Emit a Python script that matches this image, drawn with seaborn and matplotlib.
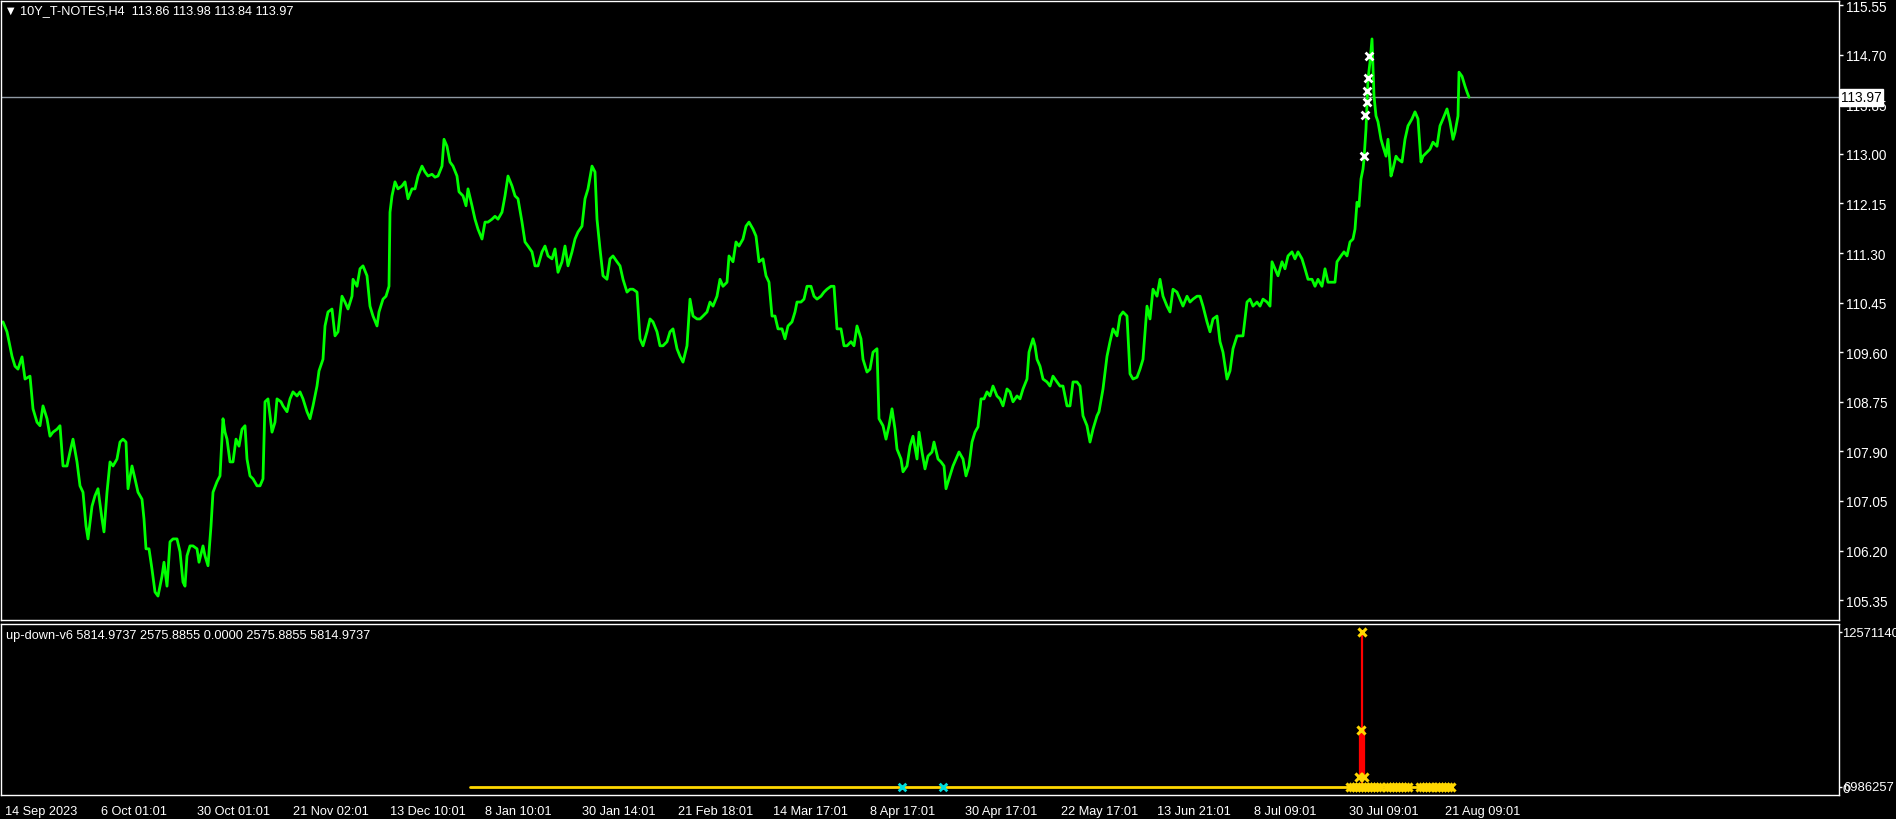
import matplotlib
matplotlib.use("Agg")
import matplotlib.pyplot as plt
import matplotlib.transforms as mtransforms
import seaborn as sns

# --- price trace (H4 bar index, price) ---
bar_idx = [3, 7, 12, 15, 18, 22, 25, 30, 33, 37, 40, 43, 47, 50, 53, 57, 60, 63, 67, 70,
           73, 77, 80, 83, 86, 88, 92, 95, 98, 102, 104, 107, 110, 113, 117, 120, 123, 126, 128, 132,
           135, 138, 142, 144, 146, 149, 152, 155, 158, 162, 164, 167, 170, 173, 177, 180, 183, 185, 187, 190,
           193, 197, 199, 203, 205, 208, 211, 213, 217, 220, 223, 225, 227, 230, 233, 236, 239, 242, 245, 247,
           250, 253, 257, 260, 263, 265, 268, 272, 275, 277, 281, 283, 287, 290, 293, 297, 300, 303, 307, 310,
           313, 317, 319, 323, 325, 328, 332, 335, 338, 342, 345, 348, 352, 353, 357, 360, 363, 367, 370, 373,
           377, 379, 383, 386, 389, 390, 392, 395, 398, 402, 405, 408, 412, 415, 418, 422, 425, 428, 432, 435,
           438, 442, 444, 447, 450, 453, 457, 459, 463, 466, 468, 472, 475, 478, 482, 485, 488, 492, 495, 498,
           502, 505, 508, 512, 515, 518, 522, 525, 528, 532, 535, 538, 542, 545, 548, 552, 555, 558, 562, 565,
           568, 572, 575, 578, 582, 585, 588, 592, 595, 597, 600, 603, 607, 610, 613, 617, 620, 623, 627, 630,
           633, 637, 640, 643, 647, 650, 653, 657, 660, 663, 667, 670, 673, 677, 680, 683, 687, 690, 693, 697,
           700, 703, 707, 710, 713, 717, 720, 723, 727, 729, 733, 736, 739, 743, 746, 749, 753, 756, 759, 763,
           766, 769, 772, 775, 778, 782, 785, 788, 792, 795, 797, 801, 804, 807, 811, 814, 817, 821, 824, 827,
           831, 834, 837, 841, 844, 847, 851, 854, 857, 861, 863, 867, 870, 873, 877, 879, 883, 886, 889, 892,
           895, 897, 901, 903, 907, 910, 913, 917, 919, 922, 925, 928, 932, 934, 938, 941, 944, 946, 949, 953,
           956, 959, 963, 966, 969, 972, 975, 978, 981, 984, 987, 990, 993, 997, 1000, 1003, 1007, 1010, 1013, 1017,
           1020, 1023, 1027, 1029, 1033, 1035, 1037, 1040, 1043, 1047, 1050, 1053, 1057, 1060, 1063, 1067, 1070, 1073, 1077, 1080,
           1083, 1087, 1090, 1093, 1097, 1099, 1103, 1107, 1110, 1113, 1117, 1120, 1123, 1127, 1130, 1133, 1137, 1140, 1143, 1147,
           1150, 1153, 1157, 1160, 1163, 1167, 1170, 1173, 1177, 1180, 1183, 1187, 1190, 1193, 1197, 1200, 1203, 1207, 1210, 1213,
           1217, 1220, 1223, 1227, 1230, 1233, 1237, 1240, 1243, 1247, 1250, 1253, 1257, 1260, 1263, 1267, 1270, 1272, 1275, 1278,
           1282, 1285, 1288, 1292, 1295, 1298, 1302, 1305, 1308, 1312, 1315, 1318, 1322, 1325, 1328, 1332, 1335, 1337, 1341, 1344,
           1347, 1350, 1353, 1355, 1357, 1359, 1361, 1363, 1364, 1366, 1368, 1370, 1372, 1374, 1376, 1378, 1381, 1383, 1386, 1388,
           1391, 1393, 1396, 1398, 1402, 1405, 1408, 1412, 1415, 1418, 1421, 1423, 1427, 1430, 1433, 1437, 1440, 1443, 1447, 1450,
           1453, 1455, 1458, 1459, 1462, 1465, 1467, 1469]
close = [110.12, 109.95, 109.53, 109.36, 109.31, 109.52, 109.14, 109.19, 108.63, 108.40, 108.34, 108.68, 108.46, 108.16, 108.23, 108.28, 108.34, 107.65, 107.65, 107.89,
         108.11, 107.72, 107.31, 107.20, 106.62, 106.40, 106.96, 107.14, 107.26, 106.74, 106.52, 107.20, 107.72, 107.65, 107.77, 108.06, 108.11, 108.06, 107.26, 107.65,
         107.43, 107.20, 107.08, 106.74, 106.23, 106.23, 105.88, 105.49, 105.42, 105.76, 106.00, 105.59, 106.35, 106.40, 106.40, 106.18, 105.66, 105.59, 106.11, 106.28,
         106.28, 106.23, 106.00, 106.28, 106.11, 105.94, 106.62, 107.20, 107.38, 107.48, 108.46, 108.23, 108.11, 107.72, 107.72, 108.11, 107.99, 108.28, 108.34, 107.77,
         107.48, 107.43, 107.31, 107.31, 107.43, 108.75, 108.80, 108.23, 108.40, 108.80, 108.75, 108.68, 108.58, 108.80, 108.92, 108.85, 108.92, 108.80, 108.58, 108.46,
         108.68, 109.02, 109.28, 109.48, 110.05, 110.29, 110.34, 109.88, 109.95, 110.56, 110.46, 110.34, 110.56, 110.85, 110.73, 111.03, 111.08, 110.91, 110.39, 110.22,
         110.05, 110.29, 110.51, 110.56, 110.73, 112.00, 112.28, 112.52, 112.40, 112.45, 112.52, 112.23, 112.40, 112.40, 112.62, 112.79, 112.69, 112.62, 112.65, 112.60,
         112.62, 112.79, 113.25, 113.13, 112.86, 112.79, 112.62, 112.35, 112.28, 112.11, 112.40, 112.11, 111.88, 111.71, 111.54, 111.83, 111.83, 111.88, 111.93, 111.88,
         112.00, 112.28, 112.62, 112.45, 112.28, 112.23, 111.83, 111.49, 111.42, 111.32, 111.08, 111.08, 111.32, 111.42, 111.25, 111.20, 111.37, 110.97, 111.15, 111.42,
         111.08, 111.32, 111.54, 111.66, 111.76, 112.23, 112.40, 112.79, 112.69, 111.88, 111.37, 110.91, 110.85, 111.20, 111.25, 111.15, 111.08, 110.85, 110.63, 110.68,
         110.68, 110.63, 109.83, 109.71, 109.95, 110.17, 110.12, 109.95, 109.71, 109.71, 109.78, 109.95, 110.00, 109.66, 109.53, 109.43, 109.71, 110.51, 110.22, 110.17,
         110.17, 110.22, 110.29, 110.46, 110.39, 110.56, 110.85, 110.73, 110.80, 111.25, 111.15, 111.49, 111.42, 111.54, 111.76, 111.83, 111.71, 111.59, 111.15, 111.20,
         110.91, 110.80, 110.22, 110.22, 110.00, 110.00, 109.83, 110.05, 110.12, 110.29, 110.46, 110.46, 110.51, 110.73, 110.73, 110.56, 110.51, 110.56, 110.63, 110.68,
         110.73, 110.73, 110.00, 110.00, 109.71, 109.71, 109.78, 109.71, 110.05, 109.83, 109.48, 109.26, 109.31, 109.60, 109.66, 108.46, 108.34, 108.11, 108.34, 108.63,
         108.28, 107.94, 107.77, 107.55, 107.65, 107.99, 108.16, 107.77, 108.23, 107.89, 107.60, 107.82, 107.89, 108.06, 107.77, 107.72, 107.65, 107.26, 107.43, 107.65,
         107.77, 107.89, 107.77, 107.48, 107.65, 108.06, 108.23, 108.32, 108.80, 108.80, 108.92, 108.85, 109.02, 108.85, 108.80, 108.68, 108.97, 108.92, 108.75, 108.85,
         108.80, 108.97, 109.14, 109.60, 109.83, 109.71, 109.48, 109.36, 109.14, 109.09, 109.02, 109.19, 109.09, 109.02, 109.02, 108.68, 108.68, 109.09, 109.09, 109.02,
         108.51, 108.34, 108.06, 108.28, 108.51, 108.58, 108.97, 109.53, 109.78, 110.00, 109.88, 110.22, 110.29, 110.22, 109.23, 109.14, 109.17, 109.31, 109.48, 110.39,
         110.17, 110.68, 110.56, 110.85, 110.56, 110.39, 110.29, 110.68, 110.63, 110.51, 110.39, 110.56, 110.46, 110.51, 110.56, 110.56, 110.39, 110.12, 109.95, 110.17,
         110.22, 109.78, 109.60, 109.14, 109.28, 109.66, 109.88, 109.88, 109.88, 110.46, 110.51, 110.39, 110.46, 110.39, 110.51, 110.46, 110.39, 111.15, 111.03, 110.91,
         111.15, 111.03, 111.25, 111.32, 111.20, 111.32, 111.20, 111.03, 110.85, 110.85, 110.73, 110.85, 110.73, 111.03, 110.80, 110.80, 110.80, 111.15, 111.25, 111.32,
         111.25, 111.49, 111.54, 111.71, 112.17, 112.10, 112.57, 112.74, 112.91, 113.43, 114.28, 114.57, 114.97, 113.99, 113.65, 113.55, 113.25, 113.13, 112.96, 113.25,
         112.62, 112.74, 112.96, 112.91, 112.86, 113.25, 113.48, 113.60, 113.72, 113.60, 112.86, 112.96, 113.03, 113.08, 113.20, 113.13, 113.48, 113.60, 113.77, 113.55,
         113.25, 113.37, 113.65, 114.40, 114.33, 114.16, 114.06, 113.97]

# white 'x' signals on the price pane
sig_idx = [1364, 1365, 1367, 1367, 1368, 1369]
sig_price = [112.96, 113.67, 113.89, 114.08, 114.30, 114.68]

last_price = 113.97
price_ticks = [105.35, 106.20, 107.05, 107.90, 108.75, 109.60, 110.45,
               111.30, 112.15, 113.00, 113.85, 114.70, 115.55]

# --- up-down-v6 indicator pane ---
ind_line_idx = [470, 1452]
ind_line_val = [5815, 5815]
spike_idx = 1362
spike_top = 12571140
spike_mid = 4620000
spike_low = 811000
gold_idx = [1350, 1353, 1356, 1359, 1362, 1365, 1368, 1371, 1374, 1377, 1380,
            1387, 1390, 1393, 1396, 1399, 1402, 1405, 1408,
            1420, 1423, 1426, 1429, 1432,
            1436, 1439, 1442, 1445, 1448, 1451,
            1362, 1361, 1359, 1364]
gold_val = [5815] * 30 + [spike_top, spike_mid, spike_low, spike_low]
cyan_idx = [902, 943]
cyan_val = [5815, 5815]

date_pos = [3, 99, 195, 291, 388, 483, 580, 676, 771, 868, 963, 1059, 1155, 1252, 1347, 1443]
date_labels = ['14 Sep 2023', '6 Oct 01:01', '30 Oct 01:01', '21 Nov 02:01', '13 Dec 10:01',
               '8 Jan 10:01', '30 Jan 14:01', '21 Feb 18:01', '14 Mar 17:01', '8 Apr 17:01',
               '30 Apr 17:01', '22 May 17:01', '13 Jun 21:01', '8 Jul 09:01', '30 Jul 09:01',
               '21 Aug 09:01']

assert len(bar_idx) == len(close)

sns.set_theme(style="dark", rc={
    "figure.facecolor": "black", "axes.facecolor": "black",
    "axes.edgecolor": "white", "axes.linewidth": 1.0,
    "text.color": "white", "xtick.color": "white", "ytick.color": "white",
    "axes.grid": False,
})
plt.rcParams["font.family"] = ["Liberation Sans", "DejaVu Sans"]

W, H = 1896, 820
FS = 9.2
fig = plt.figure(figsize=(W / 100, H / 100), dpi=100)
ax = fig.add_axes([1 / W, 1 - 621 / H, 1838 / W, 619 / H])
ax2 = fig.add_axes([1 / W, 1 - 796 / H, 1838 / W, 171 / H])

# price pane
sns.lineplot(x=bar_idx, y=close, ax=ax, color="#00ff00", linewidth=2.0, sort=False)
ax.axhline(last_price, color="#8f99a3", lw=1, zorder=1)
sns.scatterplot(x=sig_idx, y=sig_price, ax=ax, marker="x", s=32, color="white",
                linewidth=2, zorder=5)
ax.set_xlim(1, 1839)
ax.set_ylim(105.01, 115.62)
ax.set_xticks([])
ax.yaxis.tick_right()
ax.set_yticks(price_ticks)
ax.set_yticklabels([f"{p:.2f}" for p in price_ticks])
ax.tick_params(axis="y", length=3, width=1, pad=2, labelsize=9.8, colors="white", direction="out")
ax.set_xlabel("")
ax.set_ylabel("")
ax.text(1.0012, last_price, f"{last_price:.2f}", transform=ax.get_yaxis_transform(),
        color="black", fontsize=9.8, va="center", ha="left", zorder=10, clip_on=False,
        bbox=dict(facecolor="white", edgecolor="white", boxstyle="square,pad=0.12"))

fig.text(7 / W, 1 - 11 / H, "▼", fontsize=7, va="center", family=["DejaVu Sans"])
fig.text(20 / W, 1 - 11 / H, "10Y_T-NOTES,H4  113.86 113.98 113.84 113.97",
         fontsize=FS, va="center")

# indicator pane
sns.lineplot(x=ind_line_idx, y=ind_line_val, ax=ax2, color="#ffd700", linewidth=2)
ax2.vlines(spike_idx, 0, spike_top, color="red", lw=1.6, zorder=3)
ax2.vlines(spike_idx, spike_low, spike_mid, color="red", lw=4.5, zorder=3)
sns.scatterplot(x=gold_idx, y=gold_val, ax=ax2, marker="x", s=34, color="#ffd700",
                linewidth=2.2, zorder=5)
sns.scatterplot(x=cyan_idx, y=cyan_val, ax=ax2, marker="x", s=30, color="#00e0e0",
                linewidth=2, zorder=5)
ax2.set_xlim(1, 1839)
ax2.set_ylim(-648800, 13219900)
ax2.yaxis.tick_right()
ax2.set_yticks([0, spike_top])
ax2.set_yticklabels(["0", str(spike_top)])
ax2.tick_params(axis="y", length=2, width=1, pad=0.5, labelsize=9.4, colors="white")
ax2.set_xticks(date_pos)
ax2.set_xticklabels(date_labels, ha="left")
ax2.tick_params(axis="x", length=4, width=1, pad=3, labelsize=FS, colors="white")
shift = mtransforms.ScaledTranslation(2 / 100, 0, fig.dpi_scale_trans)
for lbl in ax2.get_xticklabels():
    lbl.set_transform(lbl.get_transform() + shift)
ax2.set_xlabel("")
ax2.set_ylabel("")
fig.text(1843 / W, 1 - 788 / H, "6986257", fontsize=9.4, va="center", ha="left")

fig.text(6 / W, 1 - 636 / H, "up-down-v6 5814.9737 2575.8855 0.0000 2575.8855 5814.9737",
         fontsize=FS, va="center")

fig.savefig("out.png", dpi=100, facecolor="black")
